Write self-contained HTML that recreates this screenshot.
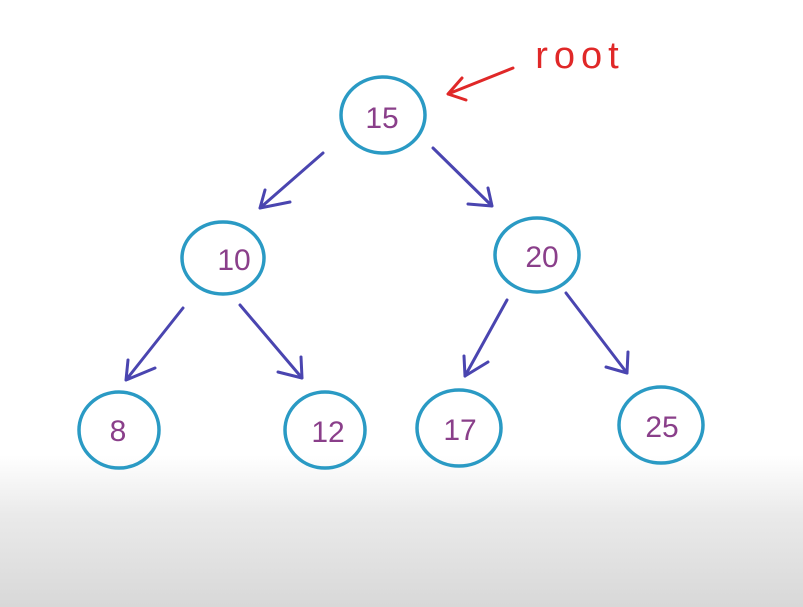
<!DOCTYPE html>
<html><head><style>
html,body{margin:0;padding:0;}
body{width:803px;height:607px;overflow:hidden;background:linear-gradient(to bottom,#fff 0,#fff 455px,#eaeaea 515px,#d8d8d8 607px);}
</style></head><body>
<svg width="803" height="607" xmlns="http://www.w3.org/2000/svg" style="position:absolute;left:0;top:0">
<g fill="none" stroke="#2a9ac4" stroke-width="3.5">
<ellipse cx="383" cy="115" rx="42" ry="38"/>
<ellipse cx="223" cy="258" rx="41" ry="36"/>
<ellipse cx="537" cy="255" rx="42" ry="37"/>
<ellipse cx="119" cy="430" rx="40" ry="38"/>
<ellipse cx="325" cy="430" rx="40" ry="38"/>
<ellipse cx="459" cy="428" rx="42" ry="38"/>
<ellipse cx="661" cy="425" rx="42" ry="38"/>
</g>
<g fill="none" stroke="#4a45b0" stroke-width="3" stroke-linecap="round" stroke-linejoin="round">
<path d="M323 153 L260 208 M260 208 L265 190 M260 208 L290 202"/>
<path d="M433 148 L492 206 M492 206 L488 188 M492 206 L468 204"/>
<path d="M183 308 L126 380 M126 380 L128 360 M126 380 L155 368"/>
<path d="M240 305 L302 378 M302 378 L301 357 M302 378 L278 372"/>
<path d="M507 300 L465 376 M465 376 L464 356 M465 376 L488 362"/>
<path d="M566 293 L627 373 M627 373 L628 352 M627 373 L606 367"/>
</g>
<g fill="none" stroke="#e02828" stroke-width="3" stroke-linecap="round" stroke-linejoin="round">
<path d="M513 68 L448 94 M448 94 L462 78 M448 94 L466 100"/>
</g>
<text x="580" y="68" font-family="Liberation Sans, sans-serif" font-size="38" fill="#e02828" text-anchor="middle" letter-spacing="6">root</text>
<g font-family="Liberation Sans, sans-serif" font-size="30" fill="#8a3f8a" text-anchor="middle">
<text x="382" y="128">15</text>
<text x="234" y="270">10</text>
<text x="542" y="267">20</text>
<text x="118" y="441">8</text>
<text x="328" y="442">12</text>
<text x="460" y="440">17</text>
<text x="662" y="437">25</text>
</g>
</svg>
</body></html>
